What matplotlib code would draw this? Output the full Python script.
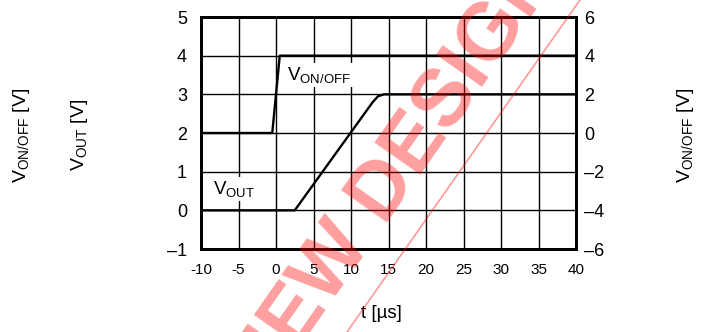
import matplotlib
matplotlib.use("Agg")
import matplotlib.pyplot as plt
from matplotlib.lines import Line2D

plt.rcParams["font.family"] = ["Liberation Sans", "DejaVu Sans"]
plt.rcParams["mathtext.fontset"] = "custom"
plt.rcParams["mathtext.rm"] = "Liberation Sans"
plt.rcParams["mathtext.it"] = "Liberation Sans:italic"
plt.rcParams["mathtext.bf"] = "Liberation Sans:bold"

# turn-on waveforms
t_out = [-10, 2.5, 12.9, 13.6, 14.4, 40]
v_out = [0, 0, 2.8, 2.95, 3.0, 3.0]
t_onoff = [-10, -0.5, 0.5, 40]
v_onoff = [0, 0, 4, 4]

x_ticks = [-10, -5, 0, 5, 10, 15, 20, 25, 30, 35, 40]
x_labels = ["-10", "-5", "0", "5", "10", "15", "20", "25", "30", "35", "40"]
left_ticks = [-1, 0, 1, 2, 3, 4, 5]
left_labels = ["\u20131", "0", "1", "2", "3", "4", "5"]
right_ticks = [-6, -4, -2, 0, 2, 4, 6]
right_labels = ["\u20136", "\u20134", "\u20132", "0", "2", "4", "6"]

W, H = 709, 332
fig = plt.figure(figsize=(W / 100, H / 100), dpi=100)
fig.patch.set_facecolor("white")
ax = fig.add_axes([201 / W, 1 - 249 / H, 375 / W, 232 / H])
ax2 = ax.twinx()

ax.set_xlim(-10, 40)
ax.set_ylim(-1, 5)
ax2.set_ylim(-6, 6)

ax.set_xticks(x_ticks)
ax.set_xticklabels(x_labels, fontsize=11)
ax.set_yticks(left_ticks)
ax.set_yticklabels(left_labels, fontsize=13)
ax2.set_yticks(right_ticks)
ax2.set_yticklabels(right_labels, fontsize=13)
ax.tick_params(axis="x", length=0, pad=10)
ax.tick_params(axis="y", length=0, pad=10)
ax2.tick_params(axis="y", length=0, pad=6)

ax.set_axisbelow(True)
ax.grid(True, color="black", lw=1.0)
for a in (ax, ax2):
    for s in a.spines.values():
        s.set_linewidth(2.0)
        s.set_color("black")

ax.plot(t_out, v_out, color="black", lw=1.7, solid_joinstyle="round", zorder=4)
ax2.plot(t_onoff, v_onoff, color="black", lw=1.7, solid_joinstyle="round", zorder=4)

box = dict(facecolor="white", edgecolor="none", pad=1.5)
ax.text(1.5, 3.5, r"$\mathrm{V}_{\mathrm{ON/OFF}}$", fontsize=13.5,
        ha="left", va="center", bbox=box, zorder=3)
ax.text(-8.4, 0.55, r"$\mathrm{V}_{\mathrm{OUT}}$", fontsize=13.5,
        ha="left", va="center", bbox=box, zorder=3)

# axis titles
fig.text(381 / W, 1 - 313 / H, "t [\u00b5s]", fontsize=13.5, ha="center", va="center")
fig.text(22 / W, 1 - 135 / H, r"$\mathrm{V}_{\mathrm{ON/OFF}}$ [V]", fontsize=14,
         rotation=90, ha="center", va="center")
fig.text(80 / W, 1 - 135 / H, r"$\mathrm{V}_{\mathrm{OUT}}$ [V]", fontsize=14,
         rotation=90, ha="center", va="center")
fig.text(685 / W, 1 - 135 / H, r"$\mathrm{V}_{\mathrm{ON/OFF}}$ [V]", fontsize=14,
         rotation=90, ha="center", va="center")

# status stamp across the plot
fig.text(396 / W, 1 - 174 / H, "NEW DESIGN", fontsize=58, fontweight="bold",
         color="red", alpha=0.38, rotation=55, rotation_mode="anchor",
         ha="center", va="center", zorder=10)
fig.add_artist(Line2D([347 / W, 580 / W], [0, 1], transform=fig.transFigure,
                      color="red", alpha=0.4, lw=1.2, zorder=10))

fig.savefig("out.png", dpi=100, facecolor="white")
